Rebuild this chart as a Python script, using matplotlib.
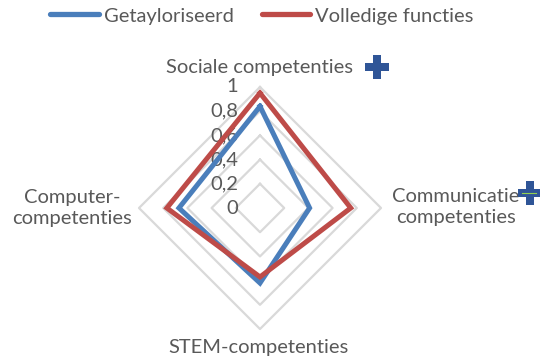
import numpy as np
import matplotlib
matplotlib.use("Agg")
import matplotlib.pyplot as plt

categories = ["Sociale competenties", "Communicatie\ncompetenties",
              "STEM-competenties", "Computer-\ncompetenties"]
series_names = ["Getayloriseerd", "Volledige functies"]
getayloriseerd = [0.84, 0.41, 0.62, 0.67]
volledige = [0.95, 0.75, 0.57, 0.77]
tick_values = [0, 0.2, 0.4, 0.6, 0.8, 1.0]
tick_labels = ["0", "0,2", "0,4", "0,6", "0,8", "1"]

colors = ["#4A7EBB", "#BE4B48"]
grid_color = "#D9D9D9"
text_color = "#595959"
font = ["Lato", "DejaVu Sans"]

W, H, DPI = 540, 359, 100
fig = plt.figure(figsize=(W / DPI, H / DPI), dpi=DPI)
ax = fig.add_axes([0, 0, 1, 1])
S = 121.0  # pixels per unit
cx, cy = 260.0, 208.0
ax.set_xlim(-cx / S, (W - cx) / S)
ax.set_ylim(-(H - cy) / S, cy / S)
ax.axis("off")

angles = np.array([0, 90, 180, 270]) * np.pi / 180.0


def xy(vals):
    v = np.asarray(vals, dtype=float)
    x = v * np.sin(angles)
    y = v * np.cos(angles)
    return np.append(x, x[0]), np.append(y, y[0])


# grid diamonds
for t in tick_values[1:]:
    gx, gy = xy([t] * 4)
    ax.plot(gx, gy, color=grid_color, lw=1.6, zorder=1)

# series
handles = []
for name, vals, c in zip(series_names, [getayloriseerd, volledige], colors):
    sx, sy = xy(vals)
    h, = ax.plot(sx, sy, color=c, lw=3.6, solid_joinstyle="miter", zorder=3)
    handles.append(h)

# tick labels
for t, lab in zip(tick_values, tick_labels):
    ax.text(-22 / S, t, lab, ha="right", va="center", fontsize=14.5,
            color=text_color, family=font, zorder=2)

# category labels
ax.text(0, (cy - 67) / S, categories[0], ha="center", va="center",
        fontsize=14.5, color=text_color, family=font)
ax.text((456 - cx) / S, (cy - 207) / S, categories[1], ha="center",
        va="center", fontsize=14.5, color=text_color, family=font,
        linespacing=1.3)
ax.text((258 - cx) / S, (cy - 348) / S, categories[2], ha="center",
        va="center", fontsize=14.5, color=text_color, family=font)
ax.text((72 - cx) / S, (cy - 208) / S, categories[3], ha="center",
        va="center", fontsize=14.5, color=text_color, family=font,
        linespacing=1.3)

# plus markers
ax.plot([(377 - cx) / S], [(cy - 67) / S], marker="P", ms=17,
        color="#2F5597", mec="#2F5597", mew=0, zorder=5, clip_on=False)
ax.plot([(530 - cx) / S], [(cy - 193) / S], marker="P", ms=17,
        color="#2F5597", mec="#2F5597", mew=0, zorder=5, clip_on=False)
ax.plot([(522 - cx) / S, (536 - cx) / S], [(cy - 193) / S] * 2,
        color="#92D050", lw=0.8, zorder=6)

leg = ax.legend(handles, series_names, loc="center",
                bbox_to_anchor=(262 / W, 1 - 16 / H), ncol=2, frameon=False,
                handlelength=2.4, handletextpad=0.25, columnspacing=1.4,
                prop={"family": font, "size": 14.5}, labelcolor=text_color,
                borderaxespad=0, borderpad=0)
for lh in leg.get_lines():
    lh.set_linewidth(3.8)
    lh.set_solid_capstyle("round")

fig.savefig("out.png", dpi=DPI)
